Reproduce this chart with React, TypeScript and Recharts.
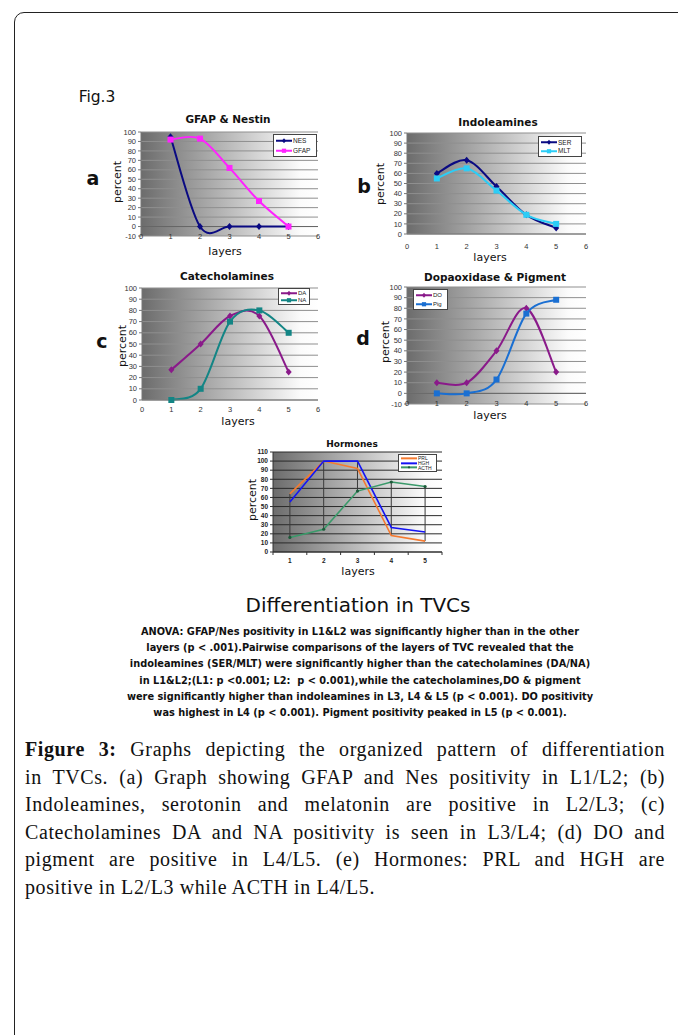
import React from 'react';
import { LineChart, ComposedChart, Line, Bar, XAxis, YAxis, CartesianGrid, ReferenceLine } from 'recharts';

const layers = [1, 2, 3, 4, 5];
const xTicks = [0, 1, 2, 3, 4, 5, 6];
const yTicksNeg = [-10, 0, 10, 20, 30, 40, 50, 60, 70, 80, 90, 100];
const yTicks100 = [0, 10, 20, 30, 40, 50, 60, 70, 80, 90, 100];
const yTicks110 = [0, 10, 20, 30, 40, 50, 60, 70, 80, 90, 100, 110];

const nes = [95, 0, 0, 0, 0];
const gfap = [92, 93, 62, 27, 0];
const ser = [60, 73, 47, 19, 6];
const mlt = [55, 65, 43, 19, 10];
const da = [27, 50, 75, 75, 25];
const na = [0, 10, 70, 80, 60];
const dopa = [10, 10, 40, 80, 20];
const pig = [0, 0, 13, 75, 88];
const prl = [64, 100, 92, 18, 12];
const hgh = [55, 100, 100, 27, 22];
const acth = [16, 25, 67, 77, 72];

const summaryLines = [
  'ANOVA: GFAP/Nes positivity in L1&L2 was significantly higher than in the other',
  'layers (p < .001).Pairwise comparisons of the layers of TVC revealed that the',
  'indoleamines (SER/MLT) were significantly higher than the catecholamines (DA/NA)',
  'in L1&L2;(L1: p <0.001; L2:  p < 0.001),while the catecholamines,DO & pigment',
  'were significantly higher than indoleamines in L3, L4 & L5 (p < 0.001). DO positivity',
  'was highest in L4 (p < 0.001). Pigment positivity peaked in L5 (p < 0.001).',
];

const captionLines = [
  'Graphs depicting the organized pattern of differentiation',
  'in TVCs. (a) Graph showing GFAP and Nes positivity in L1/L2; (b)',
  'Indoleamines, serotonin and melatonin are positive in L2/L3; (c)',
  'Catecholamines DA and NA positivity is seen in L3/L4; (d) DO and',
  'pigment are positive in L4/L5. (e) Hormones: PRL and HGH are',
  'positive in L2/L3 while ACTH in L4/L5.',
];

const comic = '"Comic Sans MS", "DejaVu Sans", sans-serif';
const arial = '"Liberation Sans", Arial, sans-serif';

type Kind = 'diamond' | 'square' | 'dot' | 'none';
type Series = { name: string; values: number[]; color: string; marker: Kind };
type Plot = { x: number; y: number; w: number; h: number };

// excel-like smoothed line (uniform catmull-rom)
function excelSmooth(context: any) {
  let pts: number[][] = [];
  return {
    areaStart() {},
    areaEnd() {},
    lineStart() {
      pts = [];
    },
    point(x: number, y: number) {
      pts.push([+x, +y]);
    },
    lineEnd() {
      if (!pts.length) return;
      context.moveTo(pts[0][0], pts[0][1]);
      for (let i = 0; i < pts.length - 1; i++) {
        const p0 = pts[i - 1] || pts[i];
        const p1 = pts[i];
        const p2 = pts[i + 1];
        const p3 = pts[i + 2] || p2;
        context.bezierCurveTo(
          p1[0] + (p2[0] - p0[0]) / 6,
          p1[1] + (p2[1] - p0[1]) / 6,
          p2[0] - (p3[0] - p1[0]) / 6,
          p2[1] - (p3[1] - p1[1]) / 6,
          p2[0],
          p2[1]
        );
      }
    },
  };
}

function Marker({ cx, cy, kind, color, s = 1 }: { cx: number; cy: number; kind: Kind; color: string; s?: number }) {
  if (kind === 'square') return <rect x={cx - 3 * s} y={cy - 3 * s} width={6 * s} height={6 * s} fill={color} />;
  if (kind === 'diamond')
    return <polygon points={`${cx},${cy - 3.5 * s} ${cx + 3 * s},${cy} ${cx},${cy + 3.5 * s} ${cx - 3 * s},${cy}`} fill={color} />;
  if (kind === 'dot') return <circle cx={cx} cy={cy} r={1.6 * s} fill="#1d5a3a" />;
  return null;
}

function T({ x, y, size, bold, rotate, family = comic, spacing, children }: any) {
  return (
    <div
      style={{
        position: 'absolute',
        left: x,
        top: y,
        transform: `translate(-50%, -50%)${rotate ? ' rotate(-90deg)' : ''}`,
        fontFamily: family,
        fontSize: size,
        fontWeight: bold ? 'bold' : 'normal',
        letterSpacing: spacing,
        whiteSpace: 'pre',
        color: '#111',
        lineHeight: 1,
      }}
    >
      {children}
    </div>
  );
}

function LegendBox({ left, top, width, rowH, font, series }: any) {
  return (
    <div
      style={{
        position: 'absolute',
        left,
        top,
        width,
        background: '#fff',
        border: '1px solid #444',
        padding: '1px 2px',
        boxSizing: 'border-box',
      }}
    >
      {series.map((s: Series) => (
        <div key={s.name} style={{ display: 'flex', alignItems: 'center', height: rowH, fontSize: font, fontFamily: arial, color: '#222' }}>
          <svg width={16} height={rowH} style={{ flex: 'none' }}>
            <line x1={0} y1={rowH / 2} x2={16} y2={rowH / 2} stroke={s.color} strokeWidth={2} />
            <Marker cx={8} cy={rowH / 2} kind={s.marker} color={s.color} s={0.7} />
          </svg>
          <span style={{ marginLeft: 1 }}>{s.name}</span>
        </div>
      ))}
    </div>
  );
}

const xTick = (offset: number) => (p: any) => (
  <text key={`t-${p.index}`} x={p.x} y={p.y + offset} textAnchor="middle" fontSize={7.5} fontFamily={arial} fill="#333">
    {p.payload.value}
  </text>
);

function SmallChart({ id, plot, series, yDomain, yTicks, zeroAxis, labelOffset }: any) {
  const data = layers.map((l, i) => {
    const row: any = { layer: l };
    series.forEach((s: Series) => (row[s.name] = s.values[i]));
    return row;
  });
  return (
    <div style={{ position: 'absolute', left: plot.x - 35, top: plot.y - 10 }}>
      <LineChart width={plot.w + 45} height={plot.h + 30} data={data} margin={{ top: 10, right: 10, left: 0, bottom: 0 }}>
        <defs>
          <linearGradient id={id} x1="0" y1="0" x2="1" y2="0">
            <stop offset="0%" stopColor="#6c6c6c" />
            <stop offset="90%" stopColor="#fbfbfb" />
            <stop offset="100%" stopColor="#ffffff" />
          </linearGradient>
        </defs>
        <CartesianGrid vertical={false} stroke="#8f8f8f" fill={`url(#${id})`} fillOpacity={1} />
        <XAxis
          type="number"
          dataKey="layer"
          domain={[0, 6]}
          ticks={xTicks}
          interval={0}
          height={20}
          axisLine={zeroAxis ? false : { stroke: '#777' }}
          tickLine={false}
          tickSize={0}
          tickMargin={0}
          tick={xTick(labelOffset)}
        />
        <YAxis
          type="number"
          domain={yDomain}
          ticks={yTicks}
          interval={0}
          width={35}
          axisLine={{ stroke: '#777' }}
          tickLine={{ stroke: '#777' }}
          tickSize={3}
          tickMargin={2}
          tick={{ fontSize: 7.5, fill: '#333', fontFamily: arial }}
        />
        {zeroAxis && <ReferenceLine y={0} stroke="#666" />}
        {series.map((s: Series) => (
          <Line
            key={s.name}
            dataKey={s.name}
            type={excelSmooth as any}
            stroke={s.color}
            strokeWidth={2}
            isAnimationActive={false}
            dot={(p: any) => <Marker key={`${s.name}-${p.index}`} cx={p.cx} cy={p.cy} kind={s.marker} color={s.color} />}
          />
        ))}
      </LineChart>
    </div>
  );
}

const seriesA: Series[] = [
  { name: 'NES', values: nes, color: '#0a0a82', marker: 'diamond' },
  { name: 'GFAP', values: gfap, color: '#ff22ff', marker: 'square' },
];
const seriesB: Series[] = [
  { name: 'SER', values: ser, color: '#0a0a82', marker: 'diamond' },
  { name: 'MLT', values: mlt, color: '#2ccdf6', marker: 'square' },
];
const seriesC: Series[] = [
  { name: 'DA', values: da, color: '#8a1a8a', marker: 'diamond' },
  { name: 'NA', values: na, color: '#138585', marker: 'square' },
];
const seriesD: Series[] = [
  { name: 'DO', values: dopa, color: '#8a1a8a', marker: 'diamond' },
  { name: 'Pig', values: pig, color: '#1a6fd2', marker: 'square' },
];
const seriesE: Series[] = [
  { name: 'PRL', values: prl, color: '#f57a30', marker: 'none' },
  { name: 'HGH', values: hgh, color: '#1414f5', marker: 'none' },
  { name: 'ACTH', values: acth, color: '#3a9a6a', marker: 'dot' },
];

const plotA: Plot = { x: 141, y: 132, w: 177, h: 104 };
const plotB: Plot = { x: 407, y: 133, w: 179, h: 101 };
const plotC: Plot = { x: 142, y: 288, w: 176, h: 112 };
const plotD: Plot = { x: 407, y: 287, w: 179, h: 117 };
const plotE: Plot = { x: 273, y: 452, w: 169, h: 100 };

function HormoneChart() {
  const plot = plotE;
  const band = plot.w / layers.length;
  const data = layers.map((l, i) => {
    const vals = seriesE.map((s) => s.values[i]);
    const row: any = { layer: l, range: [Math.min(...vals), Math.max(...vals)] };
    seriesE.forEach((s) => (row[s.name] = s.values[i]));
    return row;
  });
  return (
    <div style={{ position: 'absolute', left: plot.x - 35, top: plot.y - 10 }}>
      <ComposedChart width={plot.w + 45} height={plot.h + 30} data={data} margin={{ top: 10, right: 10, left: 0, bottom: 0 }}>
        <defs>
          <linearGradient id="gradE" x1="0" y1="0" x2="1" y2="0">
            <stop offset="0%" stopColor="#6c6c6c" />
            <stop offset="90%" stopColor="#fbfbfb" />
            <stop offset="100%" stopColor="#ffffff" />
          </linearGradient>
        </defs>
        <CartesianGrid vertical={false} stroke="#2a2a2a" fill="url(#gradE)" fillOpacity={1} />
        <XAxis
          dataKey="layer"
          height={20}
          axisLine={{ stroke: '#333' }}
          tickLine={false}
          tickSize={0}
          tickMargin={0}
          interval={0}
          tick={(p: any) => (
            <g key={`e-${p.index}`}>
              <text x={p.x} y={p.y + 11} textAnchor="middle" fontSize={6.5} fontWeight="bold" fontFamily={arial} fill="#222">
                {p.payload.value}
              </text>
              <line x1={p.x - band / 2} x2={p.x - band / 2} y1={p.y} y2={p.y + 3} stroke="#333" />
              {p.index === layers.length - 1 && <line x1={p.x + band / 2} x2={p.x + band / 2} y1={p.y} y2={p.y + 3} stroke="#333" />}
            </g>
          )}
        />
        <YAxis
          type="number"
          domain={[0, 110]}
          ticks={yTicks110}
          interval={0}
          width={35}
          axisLine={{ stroke: '#333' }}
          tickLine={{ stroke: '#333' }}
          tickSize={3}
          tickMargin={2}
          tick={{ fontSize: 6.5, fontWeight: 'bold', fill: '#222', fontFamily: arial }}
        />
        <Bar
          dataKey="range"
          isAnimationActive={false}
          shape={(p: any) => (
            <line x1={p.x + p.width / 2} x2={p.x + p.width / 2} y1={p.y} y2={p.y + p.height} stroke="#3a3a3a" strokeWidth={1} />
          )}
        />
        {seriesE.map((s) => (
          <Line
            key={s.name}
            dataKey={s.name}
            type="linear"
            stroke={s.color}
            strokeWidth={1.6}
            isAnimationActive={false}
            dot={s.marker === 'none' ? false : (p: any) => <Marker key={`${s.name}-${p.index}`} cx={p.cx} cy={p.cy} kind={s.marker} color={s.color} />}
          />
        ))}
      </ComposedChart>
    </div>
  );
}

export default function App() {
  return (
    <div style={{ position: 'absolute', left: 0, top: 0, width: 678, height: 1035, overflow: 'hidden', background: '#fff' }}>
      <div
        style={{
          position: 'absolute',
          left: 14,
          top: 12,
          width: 720,
          height: 1100,
          border: '1.5px solid #222',
          borderRadius: 10,
          boxSizing: 'border-box',
        }}
      />

      <T x={97} y={98} size={15.5}>Fig.3</T>

      <T x={228} y={119} size={10.5} bold>GFAP &amp; Nestin</T>
      <T x={498} y={122} size={10.5} bold>Indoleamines</T>
      <T x={227} y={276} size={10.5} bold>Catecholamines</T>
      <T x={495} y={277} size={10.5} bold>Dopaoxidase &amp; Pigment</T>
      <T x={352} y={444} size={9} bold>Hormones</T>

      <T x={93} y={178} size={19} bold>a</T>
      <T x={364} y={186} size={19} bold>b</T>
      <T x={102} y={341} size={19} bold>c</T>
      <T x={363} y={338} size={19} bold>d</T>

      <SmallChart id="gradA" plot={plotA} series={seriesA} yDomain={[-10, 100]} yTicks={yTicksNeg} zeroAxis labelOffset={3} />
      <SmallChart id="gradB" plot={plotB} series={seriesB} yDomain={[0, 100]} yTicks={yTicks100} zeroAxis={false} labelOffset={15} />
      <SmallChart id="gradC" plot={plotC} series={seriesC} yDomain={[0, 100]} yTicks={yTicks100} zeroAxis={false} labelOffset={12} />
      <SmallChart id="gradD" plot={plotD} series={seriesD} yDomain={[-10, 100]} yTicks={yTicksNeg} zeroAxis labelOffset={2} />
      <HormoneChart />

      <LegendBox left={273} top={134} width={44} rowH={9.5} font={6.5} series={seriesA} />
      <LegendBox left={538} top={136} width={44} rowH={8.5} font={6.5} series={seriesB} />
      <LegendBox left={278} top={288} width={32} rowH={6.5} font={6} series={seriesC} />
      <LegendBox left={413} top={289} width={35} rowH={8.5} font={6} series={seriesD} />
      <LegendBox left={398} top={454} width={39} rowH={4.7} font={5} series={seriesE} />

      <T x={117} y={182} size={11} rotate>percent</T>
      <T x={380} y={184} size={11} rotate>percent</T>
      <T x={122} y={346} size={11} rotate>percent</T>
      <T x={385} y={342} size={11} rotate>percent</T>
      <T x={252} y={500} size={11} rotate>percent</T>

      <T x={225} y={251} size={11}>layers</T>
      <T x={490} y={257} size={11}>layers</T>
      <T x={238} y={421} size={11}>layers</T>
      <T x={490} y={415} size={11}>layers</T>
      <T x={358} y={571} size={11}>layers</T>

      <T x={358} y={605} size={20}>Differentiation in TVCs</T>
      {summaryLines.map((line, i) => (
        <T key={i} x={360} y={632 + i * 16.2} size={9.8} bold>
          {line}
        </T>
      ))}

      {captionLines.map((line, i) => (
        <div
          key={i}
          style={{
            position: 'absolute',
            left: 25,
            top: 736 + i * 27.6,
            width: 640,
            height: 27.6,
            fontFamily: '"Liberation Serif", serif',
            fontSize: 20,
            letterSpacing: 0.6,
            lineHeight: '27.6px',
            color: '#111',
            textAlign: 'justify',
            textAlignLast: i < captionLines.length - 1 ? 'justify' : 'left',
            whiteSpace: 'nowrap',
          } as any}
        >
          {i === 0 && <b>Figure 3: </b>}
          {line}
        </div>
      ))}
    </div>
  );
}
